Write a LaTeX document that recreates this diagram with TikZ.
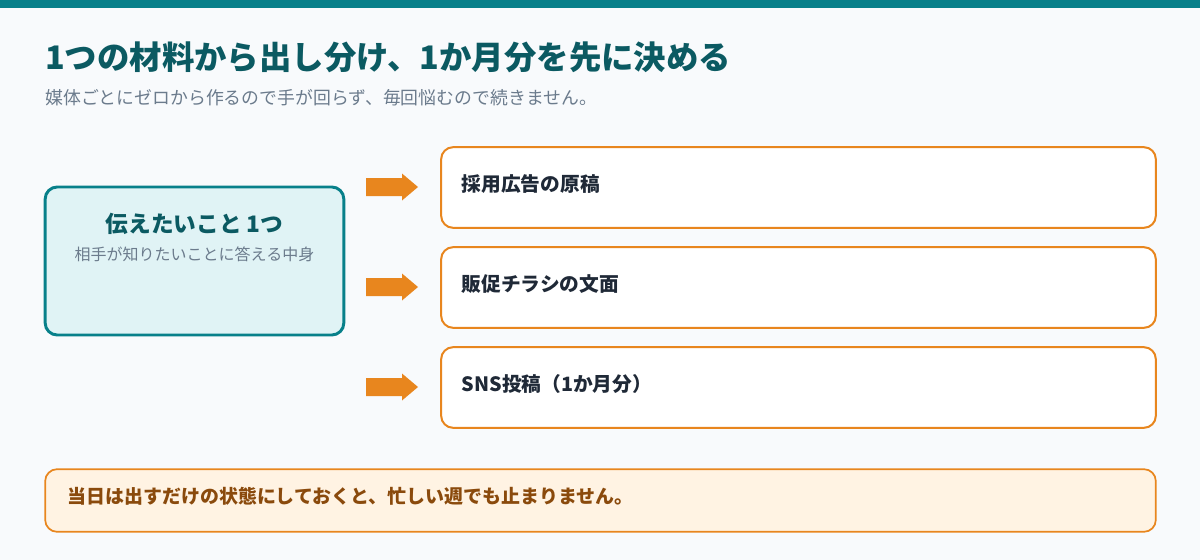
\documentclass[tikz,border=0pt]{standalone}
\usepackage{fontspec}
\setmainfont{Noto Sans CJK JP}
\usepackage{xcolor}
\usetikzlibrary{positioning}

\definecolor{barteal}{HTML}{08808A}
\definecolor{titleteal}{HTML}{0B5A62}
\definecolor{subgray}{HTML}{6B7B8C}
\definecolor{pagebg}{HTML}{F8FAFC}
\definecolor{corefill}{HTML}{E0F3F5}
\definecolor{accent}{HTML}{E8861E}
\definecolor{darktext}{HTML}{1F2937}
\definecolor{notefill}{HTML}{FFF3E3}
\definecolor{notetext}{HTML}{8A4A0C}

\begin{document}
\begin{tikzpicture}[x=0.75pt,y=-0.75pt,
    corebox/.style={draw=barteal, line width=2.2pt, fill=corefill, rounded corners=9pt,
        minimum width=224pt, minimum height=111pt},
    outbox/.style={draw=accent, line width=1.5pt, fill=white, rounded corners=9pt,
        minimum width=536pt, minimum height=60.5pt},
    notebox/.style={draw=accent, line width=1.3pt, fill=notefill, rounded corners=9pt,
        minimum width=833pt, minimum height=47pt},
    outlabel/.style={anchor=west, text=darktext, font=\fontsize{14.8}{17}\selectfont\bfseries}
]
    % Page and top bar
    \useasboundingbox (0,0) rectangle (1200,560);
    \fill[pagebg] (0,0) rectangle (1200,560);
    \fill[barteal] (0,0) rectangle (1200,8);

    % Heading
    \node[anchor=west, inner sep=0, text=titleteal, font=\fontsize{24.3}{28}\selectfont\bfseries]
        (title) at (45,57) {1つの材料から出し分け、1か月分を先に決める};
    \node[anchor=west, inner sep=0, text=subgray, font=\fontsize{13.4}{16}\selectfont]
        (subtitle) at (45,98) {媒体ごとにゼロから作るので手が回らず、毎回悩むので続きません。};

    % Core message
    \node[corebox] (core) at (194.5,261) {};
    \node[text=titleteal, font=\fontsize{17}{20}\selectfont\bfseries] (coretitle) at (194.5,224) {伝えたいこと 1つ};
    \node[text=subgray, font=\fontsize{12}{14}\selectfont] (coresub) at (194.5,254) {相手が知りたいことに答える中身};

    % Outputs
    \node[outbox] (ad) at (798.5,187.5) {};
    \node[outbox] (flyer) at (798.5,287.5) {};
    \node[outbox] (sns) at (798.5,387.5) {};
    \node[outlabel] (adtext) at (457,184) {採用広告の原稿};
    \node[outlabel] (flyertext) at (457,284) {販促チラシの文面};
    \node[outlabel] (snstext) at (457,384) {SNS投稿（1か月分）};

    % Block arrows
    \foreach \y in {187,287,387} {
        \fill[accent] (366,\y-9) -- (402,\y-9) -- (402,\y-13.5) -- (418,\y)
            -- (402,\y+13.5) -- (402,\y+9) -- (366,\y+9) -- cycle;
    }

    % Note
    \node[notebox] (note) at (600.5,500.5) {};
    \node[anchor=west, text=notetext, font=\fontsize{14.2}{16}\selectfont\bfseries]
        (notetext) at (63,496) {当日は出すだけの状態にしておくと、忙しい週でも止まりません。};
\end{tikzpicture}
\end{document}
